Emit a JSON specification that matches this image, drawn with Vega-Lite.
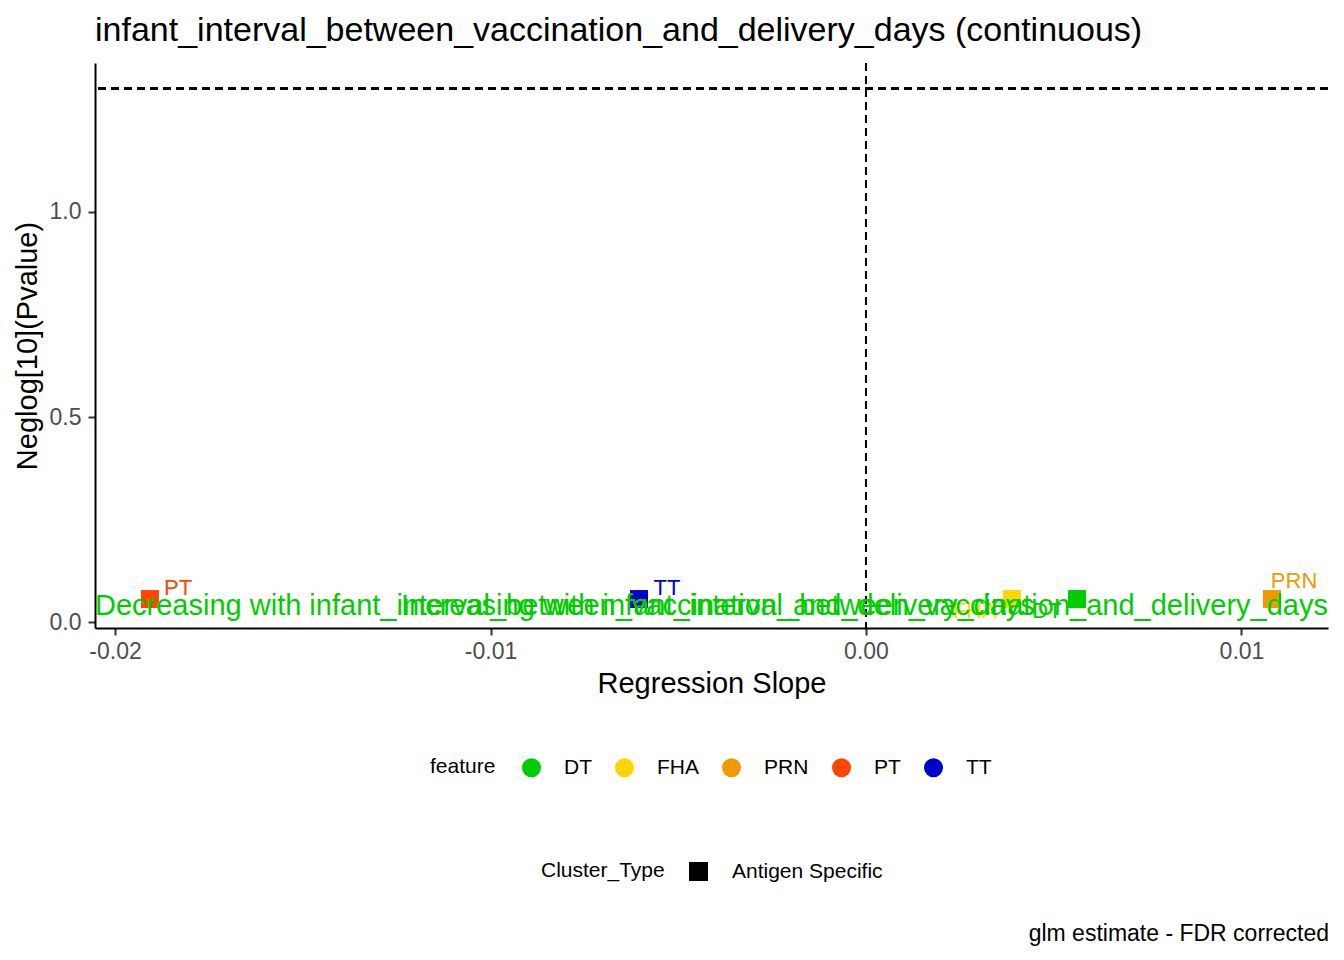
{
  "$schema": "https://vega.github.io/schema/vega-lite/v6.json",
  "background": "white",
  "autosize": {"type": "pad"},
  "padding": {"left": 13, "top": 14, "right": 16, "bottom": 10},
  "config": {
    "font": "Liberation Sans",
    "view": {"stroke": null},
    "concat": {"spacing": 0}
  },
  "title": {
    "text": "glm estimate - FDR corrected",
    "orient": "bottom",
    "anchor": "end",
    "fontSize": 23,
    "fontWeight": "normal",
    "color": "black",
    "offset": 41
  },
  "vconcat": [
    {
      "width": 1233,
      "height": 565,
      "title": {
        "text": "infant_interval_between_vaccination_and_delivery_days (continuous)",
        "anchor": "start",
        "frame": "group",
        "fontSize": 34,
        "fontWeight": "normal",
        "color": "black",
        "offset": 14
      },
      "data": {
        "values": [
          {"feature": "PT", "slope": -0.01907, "neglog_p": 0.056, "label_x": -0.01832, "label_y": 0.083, "Cluster_Type": "Antigen Specific"},
          {"feature": "TT", "slope": -0.006045, "neglog_p": 0.056, "label_x": -0.0053, "label_y": 0.083, "Cluster_Type": "Antigen Specific"},
          {"feature": "FHA", "slope": 0.003888, "neglog_p": 0.056, "label_x": 0.0029, "label_y": 0.027, "Cluster_Type": "Antigen Specific"},
          {"feature": "DT", "slope": 0.005619, "neglog_p": 0.056, "label_x": 0.00482, "label_y": 0.027, "Cluster_Type": "Antigen Specific"},
          {"feature": "PRN", "slope": 0.01081, "neglog_p": 0.056, "label_x": 0.0114, "label_y": 0.1, "Cluster_Type": "Antigen Specific"}
        ]
      },
      "layer": [
        {
          "mark": {"type": "rule", "strokeDash": [8, 5], "strokeWidth": 2, "color": "black"},
          "encoding": {"y": {"datum": 1.30103, "type": "quantitative"}}
        },
        {
          "mark": {"type": "rule", "strokeDash": [8, 5], "strokeWidth": 2, "color": "black"},
          "encoding": {"x": {"datum": 0, "type": "quantitative"}}
        },
        {
          "mark": {"type": "point", "shape": "square", "filled": true, "size": 324, "opacity": 1, "strokeWidth": 0},
          "encoding": {
            "x": {
              "field": "slope",
              "type": "quantitative",
              "title": "Regression Slope",
              "scale": {"domain": [-0.020533, 0.012304], "nice": false, "zero": false},
              "axis": {
                "values": [-0.02, -0.01, 0, 0.01],
                "labelExpr": "datum.value < 0 ? '-' + format(-datum.value, '.2f') : format(datum.value, '.2f')",
                "grid": false,
                "domainColor": "black",
                "domainWidth": 2,
                "tickColor": "#333333",
                "tickWidth": 2,
                "tickSize": 7,
                "labelColor": "#4D4D4D",
                "labelFontSize": 23,
                "labelPadding": 5,
                "titleFontSize": 29,
                "titleFontWeight": "normal",
                "titleColor": "black",
                "titlePadding": 6
              }
            },
            "y": {
              "field": "neglog_p",
              "type": "quantitative",
              "title": "Neglog[10](Pvalue)",
              "scale": {"domain": [-0.0146, 1.3634], "nice": false, "zero": false},
              "axis": {
                "values": [0, 0.5, 1],
                "format": ".1f",
                "grid": false,
                "domainColor": "black",
                "domainWidth": 2,
                "tickColor": "#333333",
                "tickWidth": 2,
                "tickSize": 7,
                "labelColor": "#4D4D4D",
                "labelFontSize": 23,
                "labelPadding": 7,
                "titleFontSize": 29,
                "titleFontWeight": "normal",
                "titleColor": "black",
                "titlePadding": 7
              }
            },
            "color": {
              "field": "feature",
              "type": "nominal",
              "scale": {
                "domain": ["DT", "FHA", "PRN", "PT", "TT"],
                "range": ["#00CD00", "#FFD700", "#EE9A00", "#FF4500", "#0000CD"]
              },
              "legend": {
                "orient": "none",
                "legendX": 335,
                "legendY": 694,
                "direction": "horizontal",
                "titleOrient": "left",
                "titleAnchor": "middle",
                "titleBaseline": "middle",
                "symbolType": "circle",
                "symbolSize": 361,
                "symbolStrokeWidth": 0,
                "symbolOpacity": 1,
                "labelFontSize": 21,
                "labelColor": "black",
                "labelOffset": 22,
                "columnPadding": 22,
                "titleFontSize": 21,
                "titleFontWeight": "normal",
                "titleColor": "black",
                "titlePadding": 25
              }
            },
            "shape": {
              "field": "Cluster_Type",
              "type": "nominal",
              "scale": {"domain": ["Antigen Specific"], "range": ["square"]},
              "legend": {
                "orient": "none",
                "legendX": 446,
                "legendY": 798,
                "direction": "horizontal",
                "titleOrient": "left",
                "titleAnchor": "middle",
                "titleBaseline": "middle",
                "symbolSize": 361,
                "symbolFillColor": "black",
                "symbolStrokeColor": "black",
                "symbolStrokeWidth": 0,
                "symbolOpacity": 1,
                "labelFontSize": 21,
                "labelColor": "black",
                "labelOffset": 23,
                "titleFontSize": 21,
                "titleFontWeight": "normal",
                "titleColor": "black",
                "titlePadding": 23
              }
            }
          }
        },
        {
          "mark": {"type": "text", "fontSize": 22, "align": "center", "baseline": "middle"},
          "encoding": {
            "x": {"field": "label_x", "type": "quantitative"},
            "y": {"field": "label_y", "type": "quantitative"},
            "text": {"field": "feature", "type": "nominal"},
            "color": {"field": "feature", "type": "nominal"}
          }
        },
        {
          "data": {"values": [{"note": "Decreasing with infant_interval_between_vaccination_and_delivery_days", "x": -0.020533, "y": 0}]},
          "mark": {"type": "text", "fontSize": 29, "align": "left", "baseline": "alphabetic", "dy": -7, "color": "#00CD00"},
          "encoding": {
            "x": {"field": "x", "type": "quantitative"},
            "y": {"field": "y", "type": "quantitative"},
            "text": {"field": "note", "type": "nominal"}
          }
        },
        {
          "data": {"values": [{"note": "Increasing with infant_interval_between_vaccination_and_delivery_days", "x": 0.012304, "y": 0}]},
          "mark": {"type": "text", "fontSize": 29, "align": "right", "baseline": "alphabetic", "dy": -7, "color": "#00CD00"},
          "encoding": {
            "x": {"field": "x", "type": "quantitative"},
            "y": {"field": "y", "type": "quantitative"},
            "text": {"field": "note", "type": "nominal"}
          }
        }
      ]
    }
  ]
}
